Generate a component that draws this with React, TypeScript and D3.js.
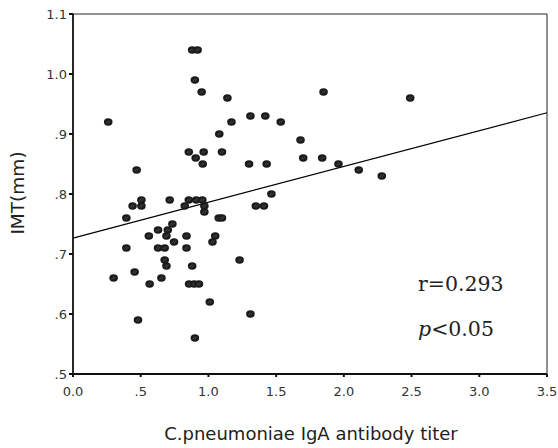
import React from "react";
import * as d3 from "d3";

// antibody titer (x) vs IMT in mm (y)
const titer = [
  0.88, 0.92, 0.9, 0.95, 1.14, 0.26, 1.17, 1.08, 0.855, 0.965, 1.1, 0.906, 0.958, 0.47,
  0.505, 0.505, 0.44, 0.714, 0.855, 0.91, 0.955, 0.825, 0.97, 0.97, 0.394, 1.076, 1.1,
  0.734, 0.628, 0.7, 0.56, 0.69, 0.838, 1.05, 0.746, 1.03, 0.394, 0.628, 0.677, 0.838,
  0.677, 0.69, 0.88, 1.23, 0.455, 0.3, 0.653, 0.566, 0.857, 0.895, 0.93, 1.01, 0.48, 0.9,
  1.85, 1.31, 1.42, 1.534, 1.68, 1.3, 1.43, 1.7, 1.84, 1.96, 2.11, 2.28, 1.465, 1.35, 1.41,
  1.31, 2.49,
];
const imt = [
  1.04, 1.04, 0.99, 0.97, 0.96, 0.92, 0.92, 0.9, 0.87, 0.87, 0.87, 0.86, 0.85, 0.84,
  0.79, 0.78, 0.78, 0.79, 0.79, 0.79, 0.79, 0.78, 0.78, 0.77, 0.76, 0.76, 0.76,
  0.75, 0.74, 0.74, 0.73, 0.73, 0.73, 0.73, 0.72, 0.72, 0.71, 0.71, 0.71, 0.71,
  0.69, 0.68, 0.68, 0.69, 0.67, 0.66, 0.66, 0.65, 0.65, 0.65, 0.65, 0.62, 0.59, 0.56,
  0.97, 0.93, 0.93, 0.92, 0.89, 0.85, 0.85, 0.86, 0.86, 0.85, 0.84, 0.83, 0.8, 0.78, 0.78,
  0.6, 0.96,
];

const xTicks = [0, 0.5, 1, 1.5, 2, 2.5, 3, 3.5];
const xTickLabels = ["0.0", ".5", "1.0", "1.5", "2.0", "2.5", "3.0", "3.5"];
const yTicks = [0.5, 0.6, 0.7, 0.8, 0.9, 1.0, 1.1];
const yTickLabels = [".5", ".6", ".7", ".8", ".9", "1.0", "1.1"];

// fitted line
const intercept = 0.7265;
const slope = 0.0597;

const width = 558;
const height = 448;
const margin = { top: 14, left: 73, right: 11, bottom: 74 };

export default function App() {
  const xScale = d3
    .scaleLinear()
    .domain([0, 3.5])
    .range([margin.left, width - margin.right]);
  const yScale = d3
    .scaleLinear()
    .domain([0.5, 1.1])
    .range([height - margin.bottom, margin.top]);

  const points = titer.map((t, i) => ({ x: t, y: imt[i] }));
  const fitLine = d3
    .line<number>()
    .x((d) => xScale(d))
    .y((d) => yScale(intercept + slope * d));

  const x0 = xScale(0);
  const x1 = xScale(3.5);
  const y0 = yScale(0.5);
  const y1 = yScale(1.1);

  return (
    <svg
      width={width}
      height={height}
      style={{ position: "absolute", left: 0, top: 0, background: "#fff" }}
      fontFamily="DejaVu Sans"
    >
      {/* frame */}
      <line x1={x0} y1={y1} x2={x1} y2={y1} stroke="#222" strokeWidth={1} />
      <line x1={x1} y1={y1} x2={x1} y2={y0} stroke="#222" strokeWidth={1} />
      <line x1={x0} y1={y1} x2={x0} y2={y0} stroke="#111" strokeWidth={1.8} />
      <line x1={x0} y1={y0} x2={x1} y2={y0} stroke="#111" strokeWidth={1.8} />

      {/* y ticks */}
      {yTicks.map((t, i) => (
        <g key={"y" + i}>
          <line x1={x0 - 4} x2={x0} y1={yScale(t)} y2={yScale(t)} stroke="#111" strokeWidth={2} />
          <text x={x0 - 6} y={yScale(t)} dy="0.35em" textAnchor="end" fontSize={13} fill="#333">
            {yTickLabels[i]}
          </text>
        </g>
      ))}

      {/* x ticks */}
      {xTicks.map((t, i) => (
        <g key={"x" + i}>
          <line x1={xScale(t)} x2={xScale(t)} y1={y0} y2={y0 + 3} stroke="#111" strokeWidth={2} />
          <text x={xScale(t)} y={y0 + 22} textAnchor="middle" fontSize={13} fill="#333">
            {xTickLabels[i]}
          </text>
        </g>
      ))}

      {/* regression line */}
      <path d={fitLine([0, 3.5]) || ""} fill="none" stroke="#000" strokeWidth={1.2} />

      {/* points */}
      {points.map((p, i) => (
        <g key={"p" + i} transform={`translate(${xScale(p.x)},${yScale(p.y)})`}>
          <ellipse rx={4.3} ry={3.7} fill="#1a1a1a" />
          <path d="M-2,1.5 L0,-1.5 M0,1.5 L2,-1.5" stroke="#666" strokeWidth={0.6} fill="none" />
        </g>
      ))}

      {/* annotations */}
      <text x={418} y={291} fontFamily="DejaVu Serif" fontSize={20.5} fill="#222">
        r=0.293
      </text>
      <text x={418} y={336} fontFamily="DejaVu Serif" fontSize={20.5} fill="#222">
        <tspan fontStyle="italic">p</tspan>&lt;0.05
      </text>

      {/* axis titles */}
      <text x={311} y={440} textAnchor="middle" fontSize={18} fill="#222">
        C.pneumoniae IgA antibody titer
      </text>
      <text
        transform={`translate(24,193) rotate(-90)`}
        textAnchor="middle"
        fontSize={18.5}
        fill="#222"
      >
        IMT(mm)
      </text>
    </svg>
  );
}
